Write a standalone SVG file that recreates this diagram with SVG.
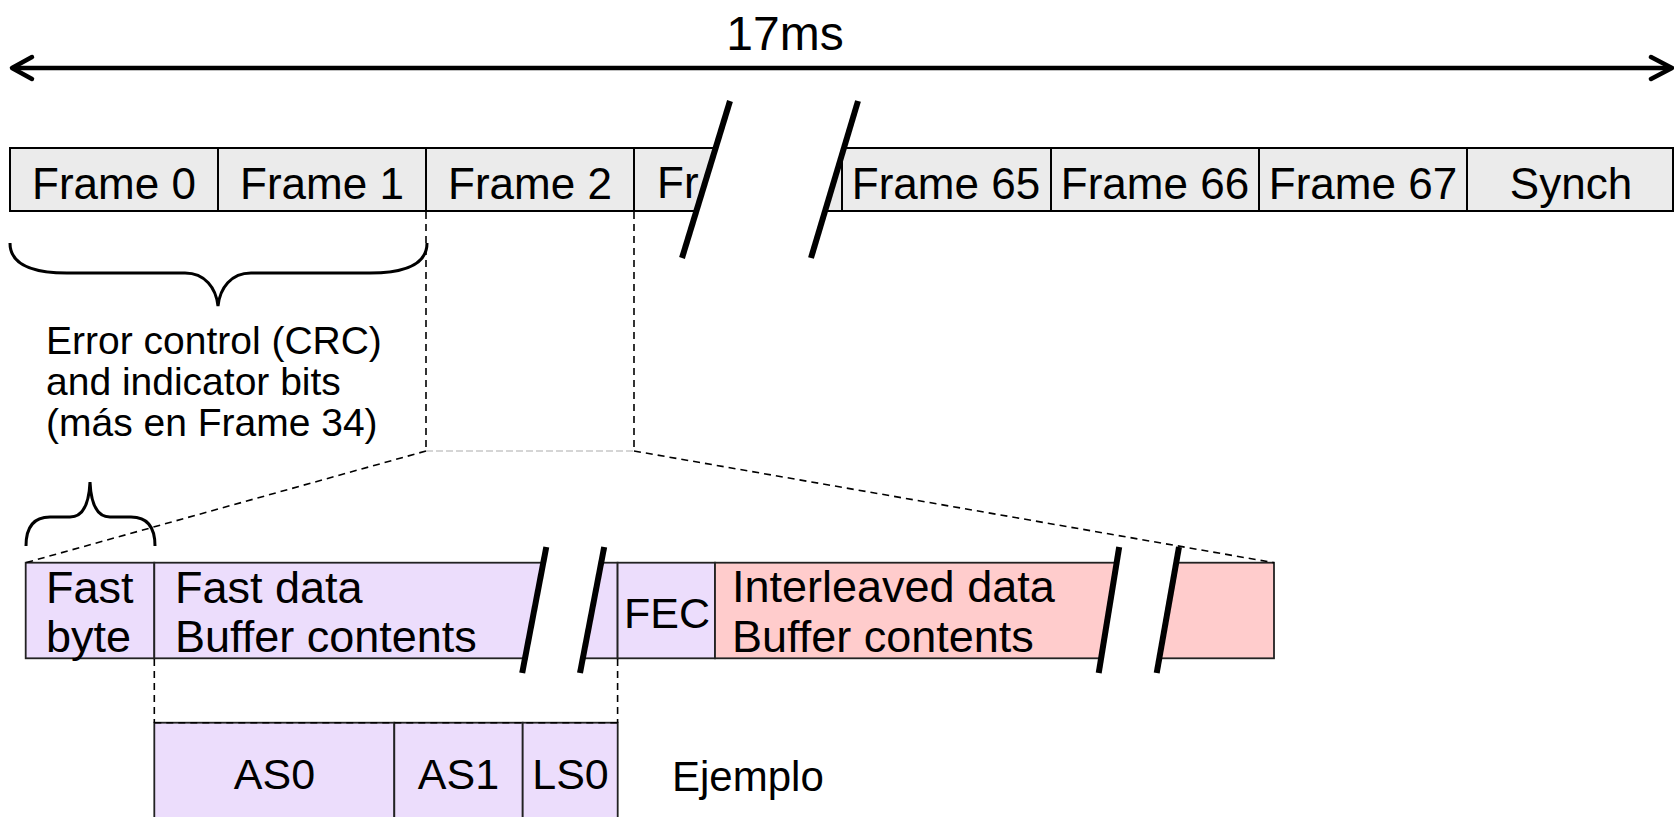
<svg xmlns="http://www.w3.org/2000/svg" width="1674" height="817" viewBox="0 0 1674 817">
<style>
  text { font-family: "Liberation Sans", Arial, sans-serif; fill: #000; }
  .fr { fill: #ebebeb; stroke: #000; stroke-width: 2; }
  .pu { fill: #ecddfc; stroke: #222; stroke-width: 1.8; }
  .pk { fill: #ffcccc; stroke: #222; stroke-width: 1.8; }
  .gap { fill: #fff; stroke: none; }
  .slash { stroke: #000; stroke-width: 6; fill: none; }
  .dash { stroke: #000; stroke-width: 1.6; stroke-dasharray: 7 5; fill: none; }
  .gdash { stroke: #c8c8c8; stroke-width: 1.6; stroke-dasharray: 7 3; fill: none; }
  .brace { stroke: #000; stroke-width: 3; fill: none; }
  .arrow { stroke: #000; stroke-width: 4.5; fill: none; stroke-linecap: round; stroke-linejoin: round; }
  .t44 { font-size: 44px; text-anchor: middle; }
  .t45 { font-size: 45px; }
  .t43 { font-size: 43px; text-anchor: middle; }
  .t39 { font-size: 39px; }
</style>

<g id="duration">
  <text x="785" y="50" style="font-size:48px" text-anchor="middle">17ms</text>
</g>

<g id="frame0"><rect class="fr" x="10" y="148" width="208" height="63"/><text class="t44" x="114" y="199">Frame 0</text></g>
<g id="frame1"><rect class="fr" x="218" y="148" width="208" height="63"/><text class="t44" x="322" y="199">Frame 1</text></g>
<g id="frame2"><rect class="fr" x="426" y="148" width="208" height="63"/><text class="t44" x="530" y="199">Frame 2</text></g>
<g id="frame3"><rect class="fr" x="634" y="148" width="208" height="63"/><text x="657" y="198" style="font-size:44px">Fr</text></g>
<g id="frame65"><rect class="fr" x="842" y="148" width="209" height="63"/><text class="t44" x="946" y="199">Frame 65</text></g>
<g id="frame66"><rect class="fr" x="1051" y="148" width="208" height="63"/><text class="t44" x="1155" y="199">Frame 66</text></g>
<g id="frame67"><rect class="fr" x="1259" y="148" width="208" height="63"/><text class="t44" x="1363" y="199">Frame 67</text></g>
<g id="synch"><rect class="fr" x="1467" y="148" width="206" height="63"/><text class="t44" x="1571" y="199">Synch</text></g>

<g id="break-top">
  <polygon class="gap" points="716.2,145 844.5,145 824.2,214 695.5,214"/>
  <line class="slash" x1="730" y1="101" x2="682" y2="258"/>
  <line class="slash" x1="858" y1="101" x2="811" y2="258"/>
</g>

<g id="crc-label">
  <text class="t39" x="46" y="354">Error control (CRC)</text>
  <text class="t39" x="46" y="395">and indicator bits</text>
  <text class="t39" x="46" y="436">(más en Frame 34)</text>
</g>

<g id="fastbyte"><rect class="pu" x="25.7" y="562.7" width="128.6" height="95.6"/>
  <text class="t45" x="46" y="603">Fast</text><text class="t45" x="46" y="652">byte</text></g>
<g id="fastdata"><rect class="pu" x="154.3" y="562.7" width="463.3" height="95.6"/>
  <text class="t45" x="175" y="603">Fast data</text><text class="t45" x="175" y="652">Buffer contents</text></g>
<g id="fec"><rect class="pu" x="617.6" y="562.7" width="97.4" height="95.6"/>
  <text class="t43" x="667" y="628">FEC</text></g>
<g id="interleaved"><rect class="pk" x="715" y="562.7" width="559" height="95.6"/>
  <text class="t45" x="732" y="602">Interleaved data</text><text class="t45" x="732" y="652">Buffer contents</text></g>

<g id="break-bottom">
  <polygon class="gap" points="543.6,561 601.5,561 582.7,660 524.8,660"/>
  <polygon class="gap" points="1116.9,561 1176.5,561 1159.1,660 1100.9,660"/>
  <line class="slash" x1="546.3" y1="547" x2="522.2" y2="673"/>
  <line class="slash" x1="604.2" y1="547" x2="580" y2="673"/>
  <line class="slash" x1="1119.2" y1="547" x2="1098.7" y2="673"/>
  <line class="slash" x1="1179" y1="547" x2="1156.7" y2="673"/>
</g>

<g id="as0"><rect class="pu" x="154.3" y="722.7" width="240" height="110"/><text class="t43" x="274.5" y="789">AS0</text></g>
<g id="as1"><rect class="pu" x="394.3" y="722.7" width="128.4" height="110"/><text class="t43" x="458.5" y="789">AS1</text></g>
<g id="ls0"><rect class="pu" x="522.7" y="722.7" width="95" height="110"/><text class="t43" x="570.5" y="789">LS0</text></g>
<g id="ejemplo"><text x="672" y="791" style="font-size:42px">Ejemplo</text></g>

<g id="connectors">
  <line class="arrow" x1="13" y1="68" x2="1671" y2="68"/>
  <polyline class="arrow" points="32,57 12,68 32,79"/>
  <polyline class="arrow" points="1651,57 1672,68 1651,79"/>
  <path class="brace" d="M10,243 C10,262 28,273 67,273 L185,273 C205,273 216,288 218,306 C220,288 231,273 251,273 L370,273 C409,273 427,262 427,243"/>
  <path class="brace" d="M26,546 C26,528 33,517 50,517 L70,517 C82,517 89,505 90,482 C91,505 98,517 110,517 L131,517 C148,517 155,528 155,546"/>
  <line class="dash" x1="426" y1="212" x2="426" y2="451"/>
  <line class="dash" x1="634" y1="212" x2="634" y2="451"/>
  <line class="gdash" x1="426" y1="451" x2="634" y2="451"/>
  <line class="dash" x1="426" y1="451" x2="25.7" y2="562.7"/>
  <line class="dash" x1="634" y1="451" x2="1274" y2="562.7"/>
  <line class="dash" x1="154.3" y1="659" x2="154.3" y2="722.7"/>
  <line class="dash" x1="617.6" y1="659" x2="617.6" y2="722.7"/>
  <line class="dash" x1="154.3" y1="722.7" x2="617.6" y2="722.7"/>
</g>
</svg>
